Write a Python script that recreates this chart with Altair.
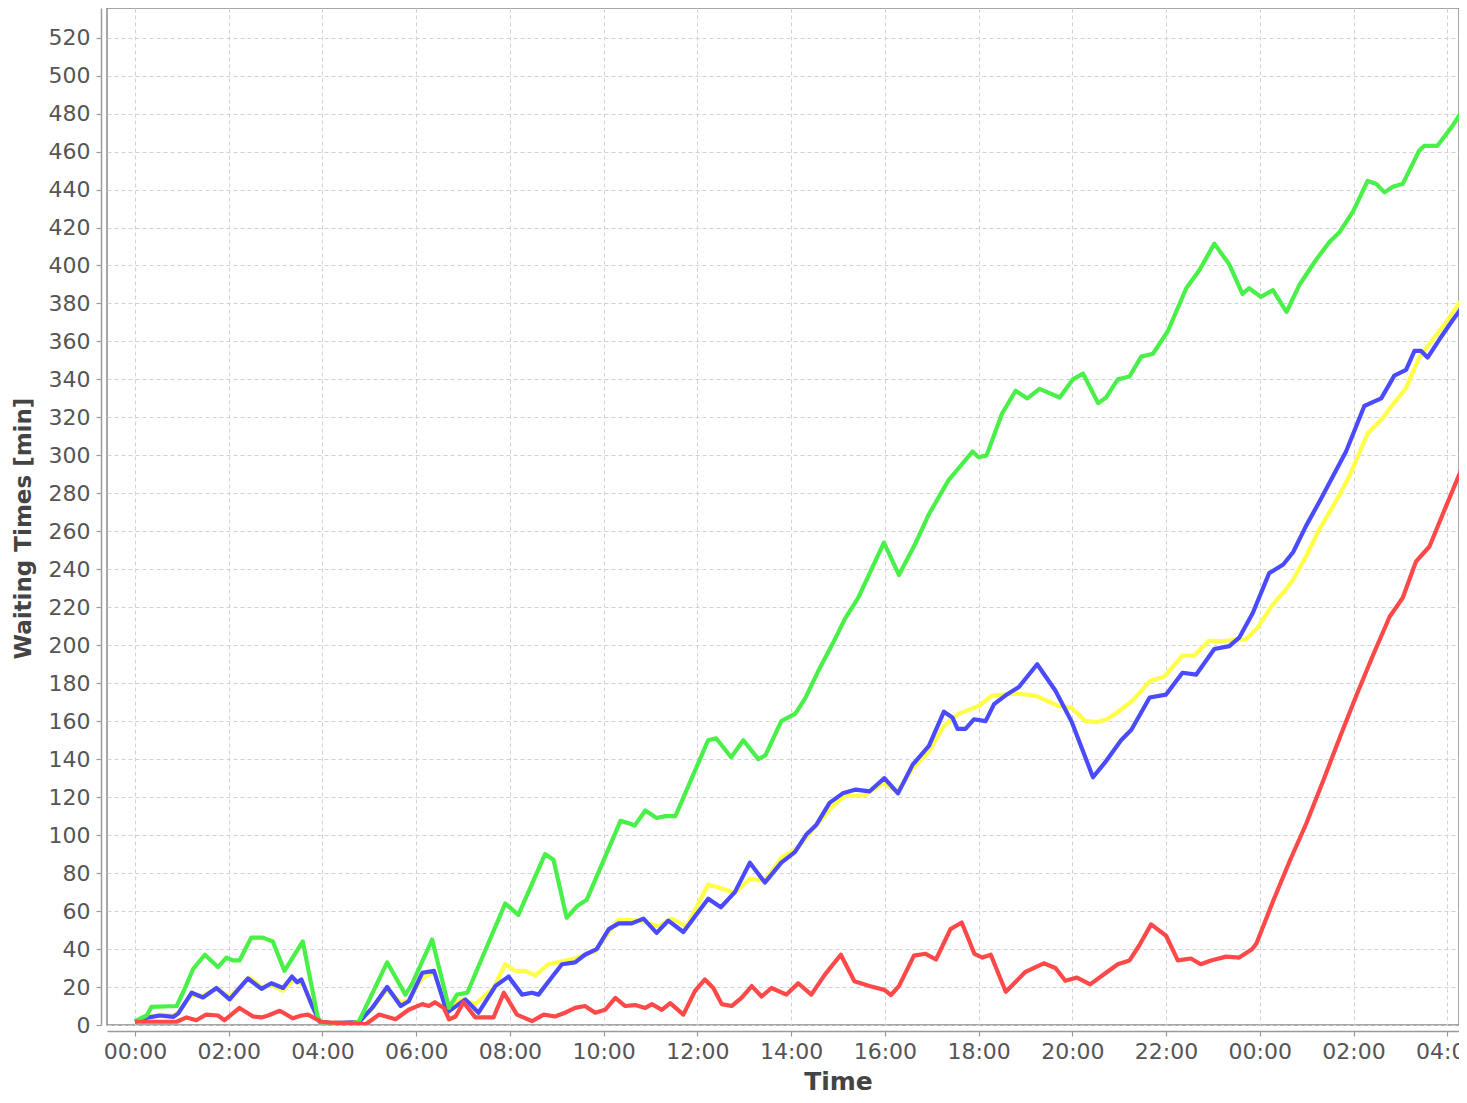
import altair as alt
import pandas as pd

# ---- data (hours since 00:00 of day 1, waiting time in minutes) ----
green_t = [0.0, 0.25, 0.35, 0.89, 1.06, 1.24, 1.49, 1.77, 1.95, 2.09, 2.23, 2.48, 2.73, 2.94, 3.19, 3.58,
           3.9, 3.97, 4.2, 4.6, 4.78, 5.38, 5.77, 5.91, 6.34, 6.7, 6.87, 7.09, 7.9, 8.18, 8.75, 8.93,
           9.21, 9.43, 9.64, 10.36, 10.57, 10.66, 10.89, 11.13, 11.32, 11.53, 12.23, 12.4, 12.72, 12.98,
           13.3, 13.45, 13.79, 14.09, 14.3, 14.57, 14.89, 15.15, 15.43, 15.98, 16.3, 16.66, 16.94, 17.36,
           17.6, 17.87, 18.0, 18.17, 18.5, 18.79, 19.04, 19.3, 19.73, 20.01, 20.23, 20.55, 20.72, 20.97,
           21.22, 21.47, 21.72, 22.04, 22.43, 22.71, 23.03, 23.35, 23.63, 23.77, 24.02, 24.28, 24.57,
           24.85, 25.2, 25.49, 25.7, 25.99, 26.3, 26.48, 26.66, 26.84, 27.05, 27.4, 27.51, 27.79, 28.11, 28.36]
green_v = [2, 5, 9.5, 10, 19, 29.5, 37, 30.5, 35.5, 34, 34, 46, 46, 44, 28.5, 44,
           4, 1.5, 1, 0.5, 2, 33, 16, 21.5, 45, 9, 16, 17, 64, 58, 90, 87,
           56.5, 62.5, 66, 107.5, 106, 105, 113, 109, 110, 110, 150, 151, 141, 150,
           140, 142, 160, 164, 172, 186, 201, 214, 225, 254, 237, 254, 269, 287,
           294, 302, 299, 300, 322, 334, 330, 335, 330.5, 340, 343, 327.5, 330.5, 340,
           341.5, 352, 353.5, 365.5, 388, 397.5, 411.5, 400.5, 385, 388, 383.5, 387, 375.5,
           390, 403, 412.5, 417.5, 428.5, 444.5, 443, 438.5, 441.5, 443, 460.5, 463, 463, 473.5, 483]

blue_t = [0.0, 0.18, 0.53, 0.82, 0.92, 1.21, 1.45, 1.74, 2.02, 2.41, 2.7, 2.91, 3.16, 3.35, 3.46, 3.55,
          3.79, 3.94, 4.2, 4.78, 5.06, 5.38, 5.67, 5.84, 6.13, 6.38, 6.66, 7.05, 7.33, 7.69, 7.97, 8.26,
          8.47, 8.61, 8.89, 9.11, 9.39, 9.6, 9.85, 10.11, 10.32, 10.6, 10.85, 11.13, 11.38, 11.7, 12.23,
          12.5, 12.8, 13.12, 13.44, 13.79, 14.08, 14.33, 14.54, 14.82, 15.1, 15.38, 15.67, 15.99, 16.28,
          16.59, 16.94, 17.26, 17.44, 17.55, 17.72, 17.9, 18.15, 18.33, 18.57, 18.86, 19.25, 19.64, 19.99,
          20.09, 20.44, 20.72, 21.04, 21.26, 21.65, 22.0, 22.35, 22.64, 23.03, 23.35, 23.56, 23.85, 24.2,
          24.5, 24.71, 24.99, 25.28, 25.56, 25.84, 26.23, 26.41, 26.59, 26.87, 27.12, 27.3, 27.44, 27.58,
          27.83, 28.11, 28.36]
blue_v = [1.7, 3.5, 5, 4.3, 6, 17, 14.5, 19.5, 13.5, 24.5, 19, 22, 19.5, 25.5, 22.5, 24,
          9.5, 1.7, 1, 1.5, 9, 20, 10, 12.5, 27.5, 28.5, 6.5, 13.5, 6.5, 20.5, 25.5, 16,
          17, 16, 25, 32, 33, 37, 40, 50.5, 53.5, 53.5, 56, 48.5, 55, 49, 66.5,
          62, 70, 85.5, 75, 85.5, 91, 100.5, 105.5, 117, 122, 124, 123, 130, 122,
          137, 147, 165, 162, 156, 156, 161, 160, 169, 173.5, 178, 190, 176, 159.5,
          153, 130.5, 139, 150, 155.5, 172.5, 174, 185.5, 184.5, 198, 199.5, 204, 217, 238,
          242.5, 249, 263, 276, 289, 302, 326, 328, 330, 342, 345, 355, 355, 351.5,
          361, 371, 379.5]

yellow_t = [0.0, 0.18, 0.53, 0.82, 0.92, 1.21, 1.45, 1.74, 2.02, 2.45, 2.7, 2.91, 3.16, 3.37, 3.6, 3.79,
            3.94, 4.2, 4.78, 5.06, 5.38, 5.67, 5.84, 6.13, 6.38, 6.66, 6.98, 7.26, 7.65, 7.9, 8.11, 8.33,
            8.54, 8.82, 9.11, 9.39, 9.82, 10.1, 10.32, 10.74, 11.17, 11.45, 11.77, 12.23, 12.5, 12.8, 13.12,
            13.44, 13.79, 14.15, 14.5, 14.86, 15.14, 15.57, 15.96, 16.28, 16.59, 16.94, 17.26, 17.58, 18.0,
            18.29, 18.79, 19.21, 19.71, 19.99, 20.28, 20.52, 20.74, 21.01, 21.29, 21.65, 21.96, 22.35, 22.6,
            22.92, 23.17, 23.49, 23.7, 23.93, 24.28, 24.53, 24.71, 24.99, 25.28, 25.63, 25.91, 26.3, 26.62,
            26.91, 27.12, 27.4, 27.69, 27.97, 28.36]
yellow_v = [1.7, 3.5, 5.5, 5, 6.5, 16, 15.5, 19, 15, 25, 20, 21, 18, 23.5, 21.5, 10,
            1.7, 1, 1.5, 8.5, 19, 12, 13, 25, 27.5, 9, 13.5, 11, 19.5, 32, 28.5, 28.5,
            26, 32, 33.5, 35, 39, 48.5, 55.5, 55, 52, 56, 52, 74, 72, 69.5, 77,
            76, 88, 93.5, 104, 114.5, 120.5, 121, 127.5, 123, 135, 144, 157.5, 164, 168,
            173.5, 174.5, 173.5, 168, 167, 160, 159.5, 161, 165.5, 171, 181, 183.5, 194.5, 194.5,
            202.5, 202, 203, 203, 208.5, 221.5, 228.5, 234.5, 247, 261.5, 276, 289, 311.5, 319.5,
            329, 335.5, 351.5, 361, 370, 384]

red_t = [0.0, 0.89, 1.1, 1.31, 1.52, 1.77, 1.91, 2.23, 2.52, 2.7, 2.84, 3.09, 3.37, 3.55, 3.69, 3.97,
         4.22, 4.93, 5.21, 5.56, 5.84, 6.13, 6.27, 6.4, 6.59, 6.7, 6.84, 7.01, 7.26, 7.65, 7.87, 8.15,
         8.47, 8.72, 8.96, 9.18, 9.39, 9.6, 9.82, 10.03, 10.25, 10.46, 10.67, 10.89, 11.03, 11.24, 11.42,
         11.7, 11.95, 12.16, 12.34, 12.52, 12.73, 12.94, 13.16, 13.37, 13.58, 13.9, 14.15, 14.43, 14.72,
         15.06, 15.35, 15.67, 15.99, 16.13, 16.3, 16.62, 16.87, 17.09, 17.4, 17.64, 17.91, 18.08, 18.26,
         18.58, 19.0, 19.39, 19.64, 19.85, 20.1, 20.38, 20.69, 20.97, 21.22, 21.43, 21.68, 22.0, 22.25,
         22.53, 22.74, 22.96, 23.28, 23.56, 23.84, 23.93, 24.28, 24.64, 24.99, 25.35, 25.7, 26.06, 26.41,
         26.77, 27.05, 27.33, 27.62, 27.97, 28.4]
red_v = [1.7, 1.7, 4, 2.5, 5.5, 5, 2.5, 9, 4.5, 4, 5, 7.5, 3.5, 5, 5.5, 1.7,
         1.2, 0.5, 5.5, 3, 8, 11, 10, 12, 9, 3, 4.5, 12, 4, 4, 17, 5.5,
         2, 5.5, 4.5, 6.5, 9, 10, 6.5, 8, 14.3, 10, 10.5, 9, 11, 8, 11.5,
         5.5, 18, 24, 19.5, 11, 10, 14.3, 20.5, 15, 19.5, 16, 22, 16, 26.5,
         37, 23, 20.5, 18.5, 15.8, 20.5, 36.5, 37.5, 34.5, 50.5, 54, 37.5, 35.5, 37,
         17.5, 28, 32.5, 30, 23.3, 25, 21.4, 27, 32, 34, 42, 53, 47, 34,
         35, 32, 34, 36, 35.5, 40, 43, 65, 86.5, 106, 128.5, 151, 173.5, 194.5,
         215, 225, 244, 252, 273, 298.5]

series_names = ["yellow", "blue", "green", "red"]
series_colors = ["#ffff48", "#4a4aff", "#48f048", "#ff4848"]
series_data = {
    "yellow": (yellow_t, yellow_v),
    "blue": (blue_t, blue_v),
    "green": (green_t, green_v),
    "red": (red_t, red_v),
}

x_ticks = list(range(0, 29, 2))
y_ticks = list(range(0, 521, 20))

x_scale = alt.Scale(domain=[-0.597, 28.25], nice=False, zero=False)
y_scale = alt.Scale(domain=[0, 535.6], nice=False, zero=False)

x_axis = alt.Axis(
    values=x_ticks,
    labelExpr="(datum.value % 24 < 10 ? '0' : '') + (datum.value % 24) + ':00'",
    title="Time", offset=6, labelFlush=False, labelOverlap=False,
    titleX=731, titleY=58, titleBaseline="alphabetic", titleAnchor="start", titleAlign="center",
)
y_axis = alt.Axis(
    values=y_ticks, title="Waiting Times [min]", offset=6,
    labelFlush=False, labelOverlap=False,
    titleX=-78, titleY=520, titleAngle=-90, titleAlign="center", titleBaseline="middle",
)

layers = []
for name, color in zip(series_names, series_colors):
    t, v = series_data[name]
    df = pd.DataFrame({"t": t, "v": v})
    layers.append(
        alt.Chart(df).mark_line(color=color, strokeWidth=4.2, clip=True, strokeJoin="round").encode(
            x=alt.X("t:Q", scale=x_scale, axis=x_axis),
            y=alt.Y("v:Q", scale=y_scale, axis=y_axis),
        )
    )

chart = alt.layer(*layers).properties(
    width=1352, height=1017,
    autosize=alt.AutoSizeParams(type="none"),
    padding={"left": 99, "top": 0, "right": 0, "bottom": 70},
).configure_view(
    stroke="#8a8a8a", strokeWidth=1.5
).configure_axis(
    grid=True, gridColor="#d2d2d2", gridDash=[4, 3], gridWidth=1,
    domainColor="#9a9a9a", domainWidth=1.5, tickColor="#9a9a9a", tickSize=5, tickWidth=1.2,
    labelFont="DejaVu Sans", labelFontSize=22, labelColor="#555555", labelPadding=5,
    titleFont="DejaVu Sans", titleColor="#444444", titleFontWeight="bold",
).configure_axisX(
    titleFontSize=25,
).configure_axisY(
    titleFontSize=23, labelPadding=6,
)

chart.save("out.html", embed_options={"renderer": "svg", "actions": False})
